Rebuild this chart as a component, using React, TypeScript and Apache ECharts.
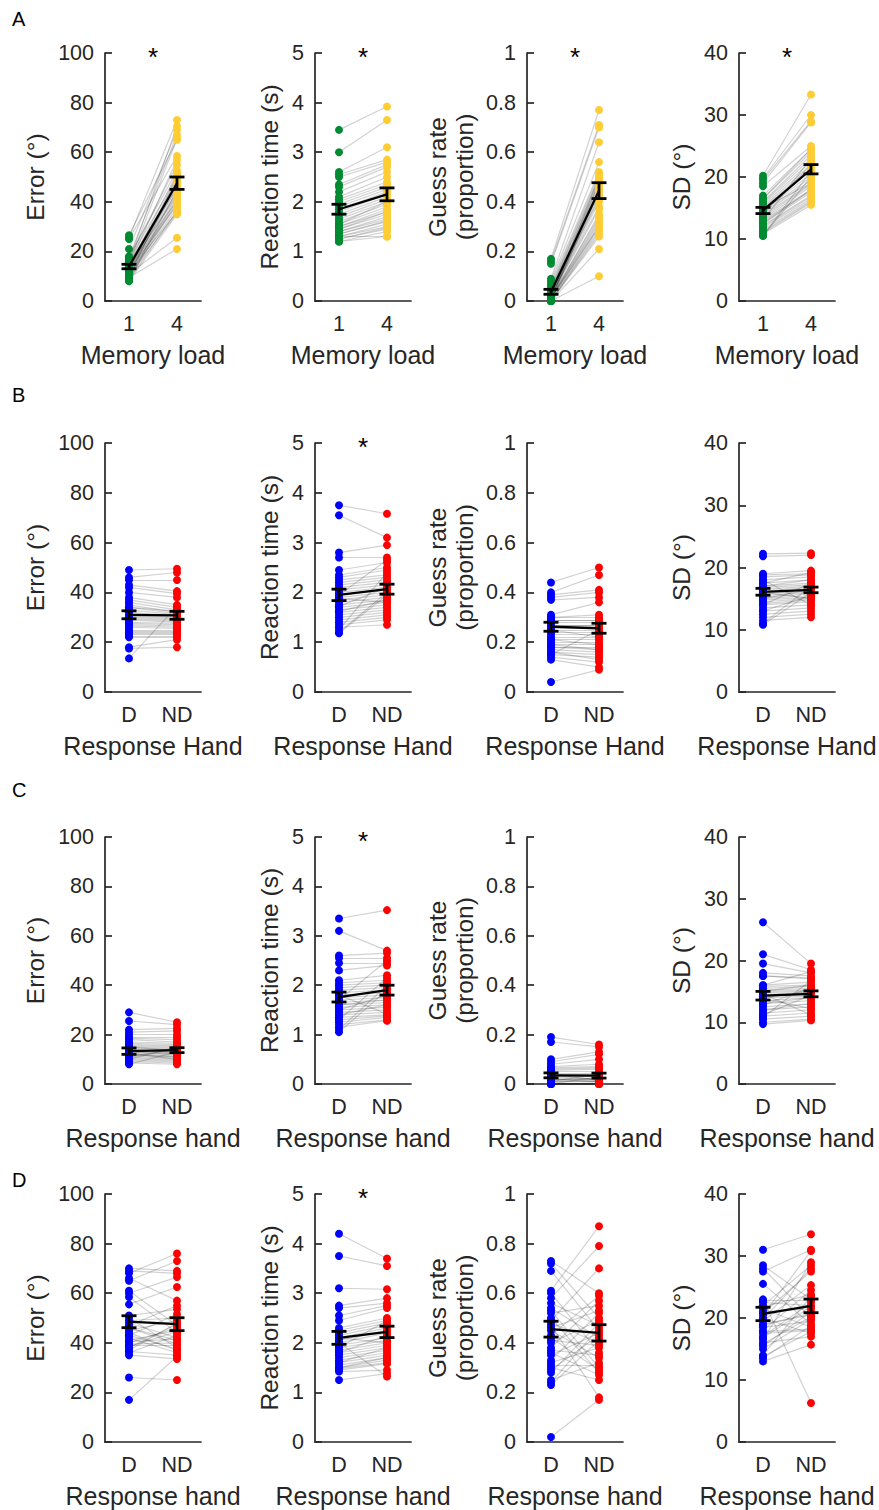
import React, { useEffect, useRef } from 'react';
import * as echarts from 'echarts';

// ---------- categories & labels ----------
const loadCats = ['1', '4'];
const handCats = ['D', 'ND'];
const rowLetters = ['A', 'B', 'C', 'D'];
const rowXNames = ['Memory load', 'Response Hand', 'Response hand', 'Response hand'];
const colYNames = ['Error (°)', 'Reaction time (s)', 'Guess rate\n(proportion)', 'SD (°)'];
const colYMax = [100, 5, 1, 40];
const colYStep = [20, 1, 0.2, 10];
// significance star per row / column
const rowStars = [
  [true, true, true, true],
  [false, true, false, false],
  [false, true, false, false],
  [false, true, false, false],
];

// ---------- Row A : memory load 1 vs 4 ----------
const aErr1 = [26.5, 25.5, 25, 21, 18, 17.5, 17, 16.5, 16, 15.5, 15, 15, 14.5, 14, 14, 13.5, 13, 13, 12.5, 12.5, 12, 12, 11.5, 11.5, 11, 11, 10.5, 10.5, 10, 10, 9.5, 9.5, 9, 8.5, 8, 8];
const aErr4 = [65, 73, 58.5, 69, 52.5, 67, 55, 50, 70.5, 47, 65.5, 45.5, 57, 42.5, 49, 51.5, 40.5, 44, 48.5, 39, 46, 38.5, 36, 43.5, 47.5, 25.5, 42, 37.5, 41, 35.5, 50.5, 21, 40, 36.5, 45, 35];
const aErrMean = [13.9, 47.5];
const aErrSE = [0.9, 2.5];

const aRt1 = [3.45, 3.0, 2.6, 2.55, 2.5, 2.35, 2.3, 2.2, 2.1, 2.05, 2.0, 1.95, 1.9, 1.85, 1.8, 1.75, 1.7, 1.65, 1.6, 1.55, 1.5, 1.5, 1.45, 1.4, 1.4, 1.35, 1.35, 1.3, 1.3, 1.25, 1.25, 1.2, 1.2, 1.3, 1.55, 1.45];
const aRt4 = [3.92, 3.65, 3.1, 2.85, 2.8, 2.75, 2.7, 2.6, 2.5, 2.4, 2.35, 2.3, 2.25, 2.2, 2.15, 2.1, 2.05, 2.0, 1.95, 1.9, 1.85, 1.8, 1.75, 1.7, 1.65, 1.62, 1.6, 1.55, 1.5, 1.48, 1.45, 1.4, 1.3, 1.3, 2.0, 1.8];
const aRtMean = [1.85, 2.15];
const aRtSE = [0.1, 0.13];

const aGr1 = [0.17, 0.16, 0.15, 0.09, 0.08, 0.07, 0.06, 0.05, 0.05, 0.04, 0.04, 0.03, 0.03, 0.03, 0.02, 0.02, 0.02, 0.02, 0.01, 0.01, 0.01, 0.01, 0.01, 0, 0, 0, 0, 0, 0, 0, 0, 0.005, 0.005, 0.015, 0.025, 0.035];
const aGr4 = [0.77, 0.71, 0.70, 0.64, 0.56, 0.52, 0.51, 0.50, 0.49, 0.48, 0.47, 0.46, 0.45, 0.44, 0.43, 0.42, 0.40, 0.37, 0.35, 0.33, 0.32, 0.31, 0.30, 0.29, 0.28, 0.27, 0.26, 0.21, 0.10, 0.45, 0.48, 0.50, 0.30, 0.34, 0.38, 0.41];
const aGrMean = [0.037, 0.445];
const aGrSE = [0.01, 0.032];

const aSd1 = [20.2, 19.8, 19.5, 19, 18.5, 17, 16.5, 16, 15.8, 15.5, 15.2, 15, 14.8, 14.5, 14.2, 14, 13.8, 13.5, 13.2, 13, 12.8, 12.5, 12.2, 12, 11.8, 11.5, 11.2, 11, 10.8, 10.5, 10.5, 15, 14, 13, 16.5, 12.5];
const aSd4 = [33.3, 30, 29, 28.8, 25, 24.5, 24, 23.5, 23, 22.5, 22, 21.5, 21, 20.5, 20, 19.5, 19, 18.8, 18.5, 18, 17.8, 17.5, 17, 16.8, 16.5, 16.2, 16, 15.8, 15.5, 21, 20, 19, 22, 23, 24.5, 18];
const aSdMean = [14.6, 21.25];
const aSdSE = [0.5, 0.75];

// ---------- Row B : response hand ----------
const bErrD = [49, 46, 45, 43, 42, 40, 38, 37, 36, 35, 34, 33, 32, 31, 30.5, 30, 29.5, 29, 28, 27.5, 27, 26.5, 26, 25, 24.5, 24, 23.5, 23, 22.5, 22, 18, 17.5, 13.5, 34];
const bErrND = [49.5, 48, 45, 40.5, 39.5, 38, 35, 34, 33, 32, 31.5, 31, 30.5, 30, 29.5, 29, 28.5, 28, 27.5, 27, 26.5, 26, 25.5, 25, 24.5, 24, 23.5, 23, 22.5, 22, 21, 18, 34.5, 32.5];
const bErrMean = [31, 30.8];
const bErrSE = [1.6, 1.6];

const bRtD = [3.75, 3.55, 2.8, 2.7, 2.45, 2.35, 2.3, 2.25, 2.2, 2.15, 2.1, 2.05, 2.0, 1.95, 1.9, 1.85, 1.8, 1.75, 1.7, 1.65, 1.6, 1.55, 1.5, 1.45, 1.4, 1.35, 1.3, 1.25, 1.2, 1.18, 1.62, 1.72, 1.88, 1.95];
const bRtND = [3.58, 3.1, 2.95, 2.7, 2.6, 2.5, 2.45, 2.35, 2.3, 2.25, 2.2, 2.15, 2.1, 2.05, 2.0, 1.95, 1.9, 1.85, 1.8, 1.75, 1.7, 1.65, 1.6, 1.55, 1.5, 1.45, 1.35, 2.4, 2.0, 1.95, 1.85, 2.1, 1.8, 2.65];
const bRtMean = [1.95, 2.065];
const bRtSE = [0.115, 0.1];

const bGrD = [0.44, 0.40, 0.39, 0.38, 0.37, 0.31, 0.30, 0.30, 0.29, 0.28, 0.27, 0.26, 0.25, 0.24, 0.23, 0.22, 0.21, 0.20, 0.19, 0.18, 0.18, 0.17, 0.16, 0.15, 0.14, 0.13, 0.04, 0.29, 0.27, 0.25, 0.21, 0.19, 0.16, 0.15];
const bGrND = [0.50, 0.47, 0.41, 0.40, 0.38, 0.36, 0.31, 0.30, 0.29, 0.28, 0.27, 0.26, 0.25, 0.24, 0.23, 0.22, 0.21, 0.20, 0.19, 0.18, 0.17, 0.16, 0.15, 0.14, 0.12, 0.10, 0.09, 0.29, 0.27, 0.22, 0.19, 0.17, 0.13, 0.25];
const bGrMean = [0.262, 0.256];
const bGrSE = [0.018, 0.02];

const bSdD = [22.2, 21.8, 19, 18.8, 18.5, 18, 17.5, 17, 16.8, 16.5, 16.2, 16, 15.8, 15.5, 15.2, 15, 14.8, 14.5, 14.2, 14, 13.5, 13, 12.5, 12, 11.5, 11, 10.8, 16, 17, 15, 14, 13, 18, 17.5];
const bSdND = [22.3, 22, 19.5, 19, 18.8, 18.5, 18, 17.5, 17.2, 17, 16.8, 16.5, 16.2, 16, 15.8, 15.5, 15.2, 15, 14.8, 14.5, 14, 13.5, 13, 12.5, 12, 17, 16, 15, 18, 16.5, 17.5, 15.5, 14, 19.2];
const bSdMean = [16.1, 16.4];
const bSdSE = [0.55, 0.45];

// ---------- Row C : response hand ----------
const cErrD = [29, 25.5, 22, 21, 20, 19, 18.5, 18, 17, 16.5, 16, 15.5, 15, 14.5, 14, 13.5, 13, 12.5, 12, 11.5, 11, 10.5, 10, 9.5, 9, 8.5, 8, 13, 12, 11, 10, 15, 14, 12.5];
const cErrND = [25, 24, 22.5, 21.5, 20, 19, 18, 17, 16.5, 16, 15.5, 15, 14.5, 14, 13.5, 13, 12.5, 12, 11.5, 11, 10.5, 10, 9.5, 9, 8.5, 8, 13, 12, 11, 14, 15, 13.5, 12.5, 10];
const cErrMean = [13.3, 13.7];
const cErrSE = [1.3, 1.0];

const cRtD = [3.35, 3.1, 2.6, 2.55, 2.45, 2.3, 2.1, 2.05, 2.0, 1.95, 1.9, 1.85, 1.8, 1.75, 1.7, 1.65, 1.6, 1.55, 1.5, 1.45, 1.4, 1.35, 1.3, 1.25, 1.2, 1.15, 1.1, 1.05, 1.5, 1.6, 1.4, 1.3, 1.7, 1.8];
const cRtND = [3.52, 2.7, 2.65, 2.55, 2.45, 2.4, 2.2, 2.1, 2.05, 2.0, 1.95, 1.9, 1.85, 1.8, 1.75, 1.7, 1.65, 1.6, 1.55, 1.5, 1.45, 1.4, 1.38, 1.35, 1.3, 1.28, 2.0, 1.9, 1.8, 1.7, 1.6, 2.15, 2.5, 1.42];
const cRtMean = [1.76, 1.9];
const cRtSE = [0.1, 0.1];

const cGrD = [0.19, 0.17, 0.10, 0.09, 0.08, 0.07, 0.065, 0.06, 0.055, 0.05, 0.045, 0.04, 0.035, 0.03, 0.025, 0.02, 0.02, 0.015, 0.01, 0.01, 0.005, 0.005, 0, 0, 0, 0, 0, 0, 0.03, 0.02, 0.01, 0.04, 0, 0.005];
const cGrND = [0.16, 0.15, 0.13, 0.12, 0.10, 0.08, 0.07, 0.065, 0.06, 0.05, 0.045, 0.04, 0.035, 0.03, 0.025, 0.02, 0.02, 0.015, 0.01, 0.01, 0.005, 0.005, 0, 0, 0, 0, 0, 0.03, 0.02, 0.01, 0.04, 0.015, 0.005, 0];
const cGrMean = [0.035, 0.034];
const cGrSE = [0.01, 0.01];

const cSdD = [26.2, 21, 19.5, 18, 17.5, 16, 15.8, 15.5, 15.2, 15, 14.8, 14.5, 14.2, 14, 13.5, 13, 12.5, 12, 11.5, 11, 10.5, 10, 9.7, 15, 14, 13, 12, 16, 17.5, 12.8, 11.2, 13.8, 14.6, 10.8];
const cSdND = [19.5, 18.5, 18, 17.5, 17, 16.5, 16, 15.8, 15.5, 15.2, 15, 14.8, 14.5, 14.2, 14, 13.5, 13, 12.5, 12, 11.5, 11, 10.5, 10.3, 16, 15, 14, 13, 18.2, 17.2, 15.6, 14.4, 12.2, 11.2, 16.8];
const cSdMean = [14.3, 14.6];
const cSdSE = [0.7, 0.48];

// ---------- Row D : response hand ----------
const dErrD = [70, 69, 68, 66, 65, 61, 60, 58.5, 55.5, 51, 50, 49, 48, 47, 46, 45, 44, 43, 42, 41, 40, 39.5, 39, 38, 37, 36.5, 36, 35, 26, 17, 46, 43, 40.5, 38.5];
const dErrND = [69, 68, 76, 57, 73, 47, 66.5, 44, 62.5, 53.5, 38, 50, 42, 55, 41, 49, 37, 51.5, 36, 45, 46, 40, 39, 47.5, 48, 35, 43, 33.5, 25, 34.5, 39.5, 37.5, 41.5, 44.5];
const dErrMean = [48.5, 47.5];
const dErrSE = [2.4, 2.6];

const dRtD = [4.2, 3.75, 3.1, 2.75, 2.7, 2.55, 2.45, 2.3, 2.25, 2.2, 2.15, 2.1, 2.05, 2.0, 1.95, 1.9, 1.85, 1.8, 1.75, 1.7, 1.65, 1.6, 1.55, 1.5, 1.48, 1.45, 1.42, 1.25, 2.0, 1.8, 1.6, 1.5, 2.1, 1.9];
const dRtND = [3.7, 3.55, 3.08, 2.9, 2.8, 2.75, 2.7, 2.5, 2.45, 2.4, 2.35, 2.3, 2.25, 2.2, 2.1, 2.05, 2.0, 1.95, 1.9, 1.85, 1.8, 1.75, 1.7, 1.65, 1.6, 1.58, 1.45, 1.38, 1.32, 2.15, 1.9, 1.7, 2.0, 2.45];
const dRtMean = [2.1, 2.22];
const dRtSE = [0.13, 0.115];

const dGrD = [0.73, 0.72, 0.69, 0.61, 0.60, 0.58, 0.56, 0.54, 0.53, 0.52, 0.50, 0.49, 0.48, 0.46, 0.45, 0.43, 0.42, 0.40, 0.38, 0.36, 0.35, 0.33, 0.32, 0.30, 0.29, 0.28, 0.25, 0.24, 0.23, 0.02, 0.47, 0.41, 0.37, 0.31];
const dGrND = [0.60, 0.50, 0.45, 0.87, 0.36, 0.79, 0.47, 0.42, 0.30, 0.55, 0.28, 0.70, 0.40, 0.53, 0.34, 0.59, 0.29, 0.49, 0.57, 0.27, 0.44, 0.52, 0.38, 0.25, 0.43, 0.48, 0.32, 0.46, 0.41, 0.17, 0.18, 0.39, 0.35, 0.31];
const dGrMean = [0.455, 0.44];
const dGrSE = [0.032, 0.033];

const dSdD = [31, 28.5, 28, 27.5, 25.5, 23, 22.5, 22, 21.5, 21, 20.5, 20, 19.5, 19, 18.5, 18, 17.5, 17, 16.5, 16, 15.5, 15, 14, 13.5, 13, 20.8, 19.8, 18.8, 21.8, 17.8, 22.8, 16.8, 15.8, 13.8];
const dSdND = [33.5, 23, 20, 31, 19, 6.3, 22, 28.5, 18.5, 21.5, 30.8, 17.5, 25.3, 20.5, 19.5, 24.5, 18, 22.5, 29, 17, 21, 19.8, 23.5, 18.8, 15.7, 27.5, 28, 20.8, 23.8, 18.2, 22.8, 21.8, 20.2, 17.8];
const dSdMean = [20.65, 21.96];
const dSdSE = [1.08, 1.1];

// rows x columns of [cond1, cond2, mean, se]
const rowsData = [
  [[aErr1, aErr4, aErrMean, aErrSE], [aRt1, aRt4, aRtMean, aRtSE], [aGr1, aGr4, aGrMean, aGrSE], [aSd1, aSd4, aSdMean, aSdSE]],
  [[bErrD, bErrND, bErrMean, bErrSE], [bRtD, bRtND, bRtMean, bRtSE], [bGrD, bGrND, bGrMean, bGrSE], [bSdD, bSdND, bSdMean, bSdSE]],
  [[cErrD, cErrND, cErrMean, cErrSE], [cRtD, cRtND, cRtMean, cRtSE], [cGrD, cGrND, cGrMean, cGrSE], [cSdD, cSdND, cSdMean, cSdSE]],
  [[dErrD, dErrND, dErrMean, dErrSE], [dRtD, dRtND, dRtMean, dRtSE], [dGrD, dGrND, dGrMean, dGrSE], [dSdD, dSdND, dSdMean, dSdSE]],
];

// ---------- layout & style ----------
const W = 879;
const H = 1510;
const colLefts = [105, 315, 527, 739];
const rowTops = [53, 443, 837, 1194];
const rowHeights = [248, 249, 247, 248];
const gridW = 96;
const yNameGaps = [56, 32, 49, 44];
const letterY = [19, 395, 790, 1180];
const rowColors = [
  ['#008a32', '#ffcc33'],
  ['#0000ff', '#ff0000'],
  ['#0000ff', '#ff0000'],
  ['#0000ff', '#ff0000'],
];
const AX = '#262626';
const FONT = '"Liberation Sans", Arial, Helvetica, sans-serif';

function buildOption() {
  const grid: any[] = [];
  const xAxis: any[] = [];
  const yAxis: any[] = [];
  const series: any[] = [];
  const graphic: any[] = [];

  for (let r = 0; r < 4; r++) {
    graphic.push({
      type: 'text',
      x: 12,
      y: letterY[r],
      style: { text: rowLetters[r], fontSize: 20, fontFamily: FONT, fill: '#000', verticalAlign: 'middle' },
    });
    for (let c = 0; c < 4; c++) {
      const idx = r * 4 + c;
      const [v1, v2, mean, se] = rowsData[r][c];
      const cats = r === 0 ? loadCats : handCats;
      grid.push({ left: colLefts[c], top: rowTops[r], width: gridW, height: rowHeights[r] });
      xAxis.push({
        type: 'category',
        gridIndex: idx,
        data: cats,
        boundaryGap: true,
        axisLine: { lineStyle: { color: AX, width: 1.7 } },
        axisTick: { alignWithLabel: true, inside: true, length: 7, lineStyle: { color: AX, width: 1.7 } },
        axisLabel: { color: AX, fontSize: 21.5, fontFamily: FONT, margin: 12 },
        name: rowXNames[r],
        nameLocation: 'middle',
        nameGap: 41,
        nameTextStyle: { color: AX, fontSize: 25, fontFamily: FONT },
      });
      yAxis.push({
        type: 'value',
        gridIndex: idx,
        min: 0,
        max: colYMax[c],
        interval: colYStep[c],
        splitLine: { show: false },
        axisLine: { show: true, lineStyle: { color: AX, width: 1.7 } },
        axisTick: { show: true, inside: true, length: 7, lineStyle: { color: AX, width: 1.7 } },
        axisLabel: { color: AX, fontSize: 21.5, fontFamily: FONT, margin: 11 },
        name: colYNames[c],
        nameLocation: 'middle',
        nameGap: yNameGaps[c],
        nameTextStyle: { color: AX, fontSize: 24.5, fontFamily: FONT, lineHeight: 27 },
      });
      series.push({
        type: 'lines',
        coordinateSystem: 'cartesian2d',
        xAxisIndex: idx,
        yAxisIndex: idx,
        silent: true,
        z: 1,
        lineStyle: { color: '#000', opacity: 0.18, width: 1.2 },
        data: v1.map((a: number, k: number) => ({ coords: [[0, a], [1, v2[k]]] })),
      });
      series.push({
        type: 'scatter',
        xAxisIndex: idx,
        yAxisIndex: idx,
        symbolSize: 8,
        z: 2,
        itemStyle: { color: rowColors[r][0], opacity: 1 },
        data: v1.map((a: number) => [0, a]),
      });
      series.push({
        type: 'scatter',
        xAxisIndex: idx,
        yAxisIndex: idx,
        symbolSize: 8,
        z: 2,
        itemStyle: { color: rowColors[r][1], opacity: 1 },
        data: v2.map((b: number) => [1, b]),
      });
      series.push({
        type: 'line',
        xAxisIndex: idx,
        yAxisIndex: idx,
        symbol: 'none',
        z: 4,
        lineStyle: { color: '#000', width: 2.3 },
        data: [[0, mean[0]], [1, mean[1]]],
      });
      series.push({
        type: 'custom',
        xAxisIndex: idx,
        yAxisIndex: idx,
        z: 5,
        encode: { x: 0, y: 1 },
        data: [[0, mean[0], se[0]], [1, mean[1], se[1]]],
        renderItem: (params: any, api: any) => {
          const x = api.value(0);
          const m = api.value(1);
          const e = api.value(2);
          const p1 = api.coord([x, m + e]);
          const p2 = api.coord([x, m - e]);
          const hw = 7.5;
          const style = { stroke: '#000', lineWidth: 2.8, fill: null };
          return {
            type: 'group',
            children: [
              { type: 'line', shape: { x1: p1[0], y1: p1[1], x2: p2[0], y2: p2[1] }, style },
              { type: 'line', shape: { x1: p1[0] - hw, y1: p1[1], x2: p1[0] + hw, y2: p1[1] }, style },
              { type: 'line', shape: { x1: p2[0] - hw, y1: p2[1], x2: p2[0] + hw, y2: p2[1] }, style },
            ],
          };
        },
      });
      if (rowStars[r][c]) {
        graphic.push({
          type: 'text',
          x: colLefts[c] + gridW / 2,
          y: rowTops[r] + 4,
          style: {
            text: '*',
            fontSize: 26,
            fontFamily: FONT,
            fill: '#000',
            align: 'center',
            verticalAlign: 'middle',
          },
        });
      }
    }
  }

  return {
    animation: false,
    backgroundColor: '#ffffff',
    textStyle: { fontFamily: FONT },
    grid,
    xAxis,
    yAxis,
    series,
    graphic,
  };
}

export default function App() {
  const ref = useRef<HTMLDivElement>(null);
  useEffect(() => {
    if (!ref.current) return;
    const chart = echarts.init(ref.current, undefined, { renderer: 'svg' });
    chart.setOption(buildOption() as any);
    return () => chart.dispose();
  }, []);
  return (
    <div
      ref={ref}
      style={{ position: 'absolute', left: 0, top: 0, width: W, height: H, background: '#fff' }}
    />
  );
}
